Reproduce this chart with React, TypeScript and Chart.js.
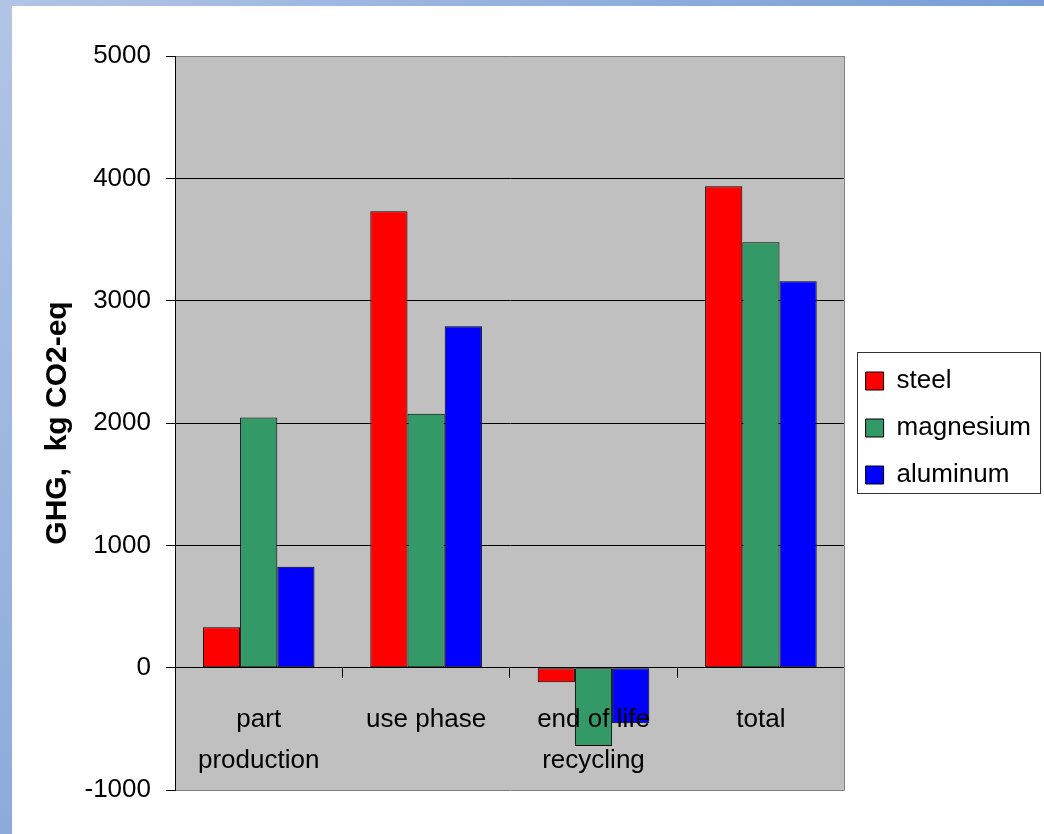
import React, { useEffect, useRef } from 'react';
import { Chart, registerables } from 'chart.js';

Chart.register(...registerables);

const categories: (string | string[])[] = [['part', 'production'], 'use phase', ['end of life', 'recycling'], 'total'];
const seriesNames = ['steel', 'magnesium', 'aluminum'];
const steel = [330, 3730, -120, 3935];
const magnesium = [2045, 2075, -640, 3478];
const aluminum = [825, 2790, -455, 3158];
const seriesColors = ['#FF0000', '#339966', '#0000FF'];
const yMin = -1000;
const yMax = 5000;
const yStep = 1000;
const yTitle = 'GHG,  kg CO2-eq';

const FONT = "'Liberation Sans', Arial, sans-serif";

const plotArea = {
  id: 'plotArea',
  beforeDraw(chart: any) {
    const { ctx, chartArea } = chart;
    ctx.save();
    ctx.fillStyle = '#C0C0C0';
    ctx.fillRect(chartArea.left, chartArea.top, chartArea.right - chartArea.left, chartArea.bottom - chartArea.top);
    ctx.restore();
  },
  afterDatasetsDraw(chart: any) {
    const { ctx, chartArea } = chart;
    ctx.save();
    ctx.strokeStyle = '#808080';
    ctx.lineWidth = 1;
    ctx.beginPath();
    const x = Math.round(chartArea.right) - 0.5;
    ctx.moveTo(x, chartArea.top);
    ctx.lineTo(x, chartArea.bottom);
    ctx.stroke();
    ctx.restore();
  },
  afterDraw(chart: any) {
    const lg = chart.legend;
    if (!lg || !lg.legendHitBoxes || !lg.legendHitBoxes.length) return;
    const hb = lg.legendHitBoxes;
    let minX = Infinity, maxX = -Infinity, minY = Infinity, maxY = -Infinity;
    hb.forEach((b: any) => {
      minX = Math.min(minX, b.left);
      maxX = Math.max(maxX, b.left + b.width);
      minY = Math.min(minY, b.top);
      maxY = Math.max(maxY, b.top + b.height);
    });
    const { ctx } = chart;
    ctx.save();
    ctx.strokeStyle = '#333333';
    ctx.lineWidth = 1;
    const l = Math.round(minX - 9) + 0.5;
    const t = Math.round(minY - 16) + 0.5;
    const r = Math.round(maxX + 9) + 0.5;
    const b = Math.round(maxY + 5) + 0.5;
    ctx.strokeRect(l, t, r - l, b - t);
    ctx.restore();
  },
};

export default function App() {
  const ref = useRef<HTMLCanvasElement | null>(null);

  useEffect(() => {
    if (!ref.current) return;
    const seriesData = [steel, magnesium, aluminum];
    const chart = new Chart(ref.current, {
      type: 'bar',
      data: {
        labels: categories,
        datasets: seriesNames.map((name, i) => ({
          label: name,
          data: seriesData[i],
          backgroundColor: seriesColors[i],
          borderColor: '#000000',
          borderWidth: 1,
          borderSkipped: false,
          categoryPercentage: 3 / 4.5,
          barPercentage: 1,
        })),
      },
      options: {
        responsive: false,
        animation: false,
        devicePixelRatio: 1,
        layout: { padding: { left: 0, right: 3, top: 56, bottom: 44 } },
        plugins: {
          tooltip: { enabled: false },
          legend: {
            position: 'right',
            title: { display: true, text: '', padding: 0, font: { size: 10, lineHeight: 1 } },
            labels: {
              color: '#000',
              boxWidth: 18,
              boxHeight: 18,
              padding: 21,
              font: { family: FONT, size: 26 },
            },
          },
        },
        scales: {
          x: {
            position: { y: 0 } as any,
            afterFit: (s: any) => { s.height = 0; },
            grid: {
              offset: true,
              drawOnChartArea: false,
              drawTicks: true,
              tickLength: 10,
              tickColor: '#000',
            },
            border: { display: true, color: '#000', width: 1 },
            ticks: {
              z: 1,
              color: '#000',
              padding: 21,
              maxRotation: 0,
              autoSkip: false,
              font: { family: FONT, size: 26, lineHeight: 1.6 },
            },
          },
          y: {
            min: yMin,
            max: yMax,
            afterFit: (s: any) => { s.width = 175; },
            grid: {
              color: (c: any) => (c.tick && (c.tick.value === yMax || c.tick.value === yMin) ? '#808080' : '#000000'),
              tickColor: '#000',
              tickLength: 9,
              lineWidth: 1,
            },
            border: { display: true, color: '#000', width: 1 },
            ticks: {
              stepSize: yStep,
              color: '#000',
              padding: 15,
              font: { family: FONT, size: 26 },
              callback: (v: any) => String(v),
            },
            title: {
              display: true,
              text: yTitle,
              color: '#000',
              padding: { top: 40, bottom: 0 },
              font: { family: FONT, size: 30, weight: 'bold' },
            },
          },
        },
      },
      plugins: [plotArea],
    });
    return () => chart.destroy();
  }, []);

  return (
    <div style={{ position: 'fixed', left: 0, top: 0, width: 1044, height: 834, overflow: 'hidden', background: '#ffffff' }}>
      <div style={{ position: 'absolute', left: 0, top: 0, width: 1044, height: 6, background: 'linear-gradient(to right, #b2c4e6, #779ed7)' }} />
      <div style={{ position: 'absolute', left: 0, top: 0, width: 12, height: 834, background: 'linear-gradient(to bottom, #b2c4e6, #8cabdb)' }} />
      <canvas ref={ref} width={1044} height={834} style={{ position: 'absolute', left: 0, top: 0, width: 1044, height: 834 }} />
    </div>
  );
}
